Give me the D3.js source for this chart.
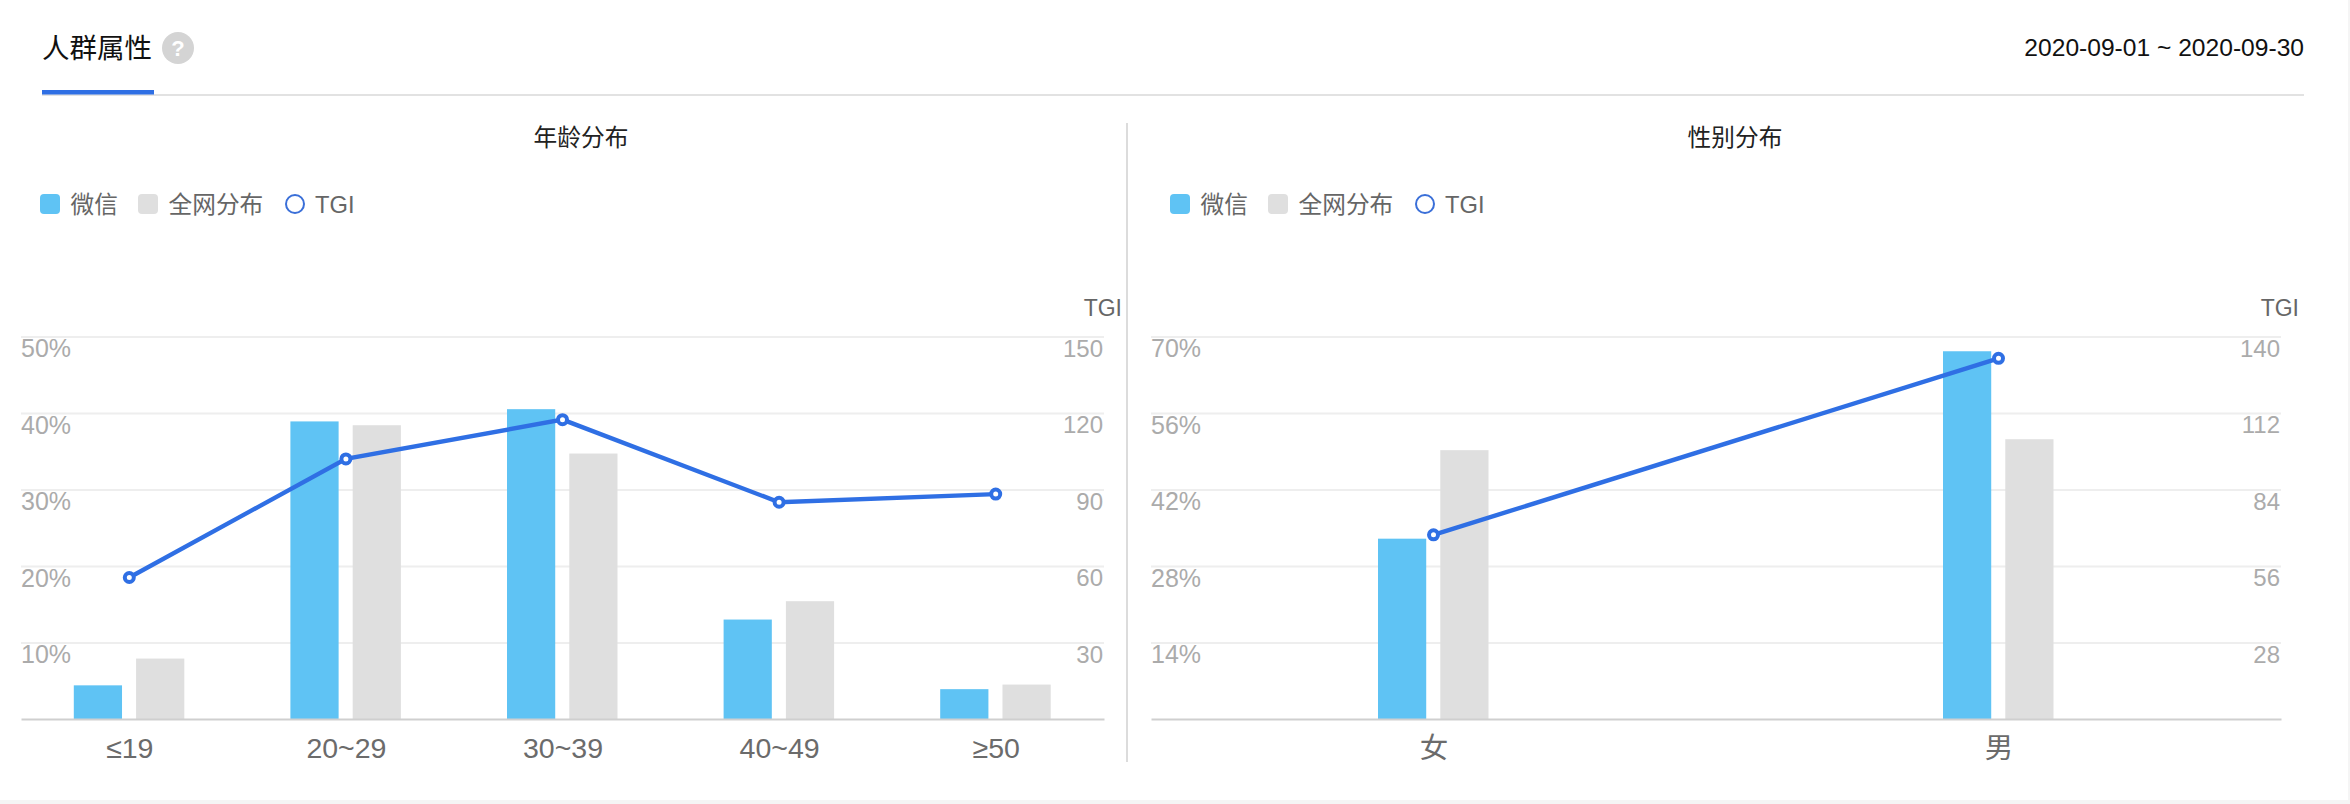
<!DOCTYPE html>
<html>
<head>
<meta charset="utf-8">
<script src="https://cdn.jsdelivr.net/npm/d3@7"></script>
<style>
  html, body { margin: 0; padding: 0; background: #fff; }
  svg { display: block; }
  text { font-family: "Liberation Sans", "Noto Sans CJK SC", sans-serif; }
</style>
</head>
<body>
<div id="chart"></div>
<script>
const pageTitle = "人群属性";
const dateRange = "2020-09-01 ~ 2020-09-30";
const seriesNames = ["微信", "全网分布", "TGI"];

const ageTitle = "年龄分布";
const ageCategories = ["≤19", "20~29", "30~39", "40~49", "≥50"];
const ageWechat = [4.4, 38.9, 40.5, 13.0, 3.9];
const ageNetwork = [7.9, 38.4, 34.7, 15.4, 4.5];
const ageTgi = [55.5, 102, 117.4, 85, 88.2];
const agePctTicks = [10, 20, 30, 40, 50];
const ageTgiTicks = [30, 60, 90, 120, 150];

const genderTitle = "性别分布";
const genderCategories = ["女", "男"];
const genderWechat = [33, 67.3];
const genderNetwork = [49.2, 51.2];
const genderTgi = [67.4, 132];
const genderPctTicks = [14, 28, 42, 56, 70];
const genderTgiTicks = [28, 56, 84, 112, 140];

const width = 2350;
const height = 804;
const marginTop = 336.5;
const baseline = 719;

const blue = "#5fc3f4";
const gray = "#dfdfdf";
const lineBlue = "#2f6fe4";

const svg = d3.select("#chart").append("svg")
    .attr("width", width)
    .attr("height", height)
    .attr("viewBox", [0, 0, width, height]);

// page frame: the light strip along the bottom and the right edge
svg.append("rect").attr("width", width).attr("height", height).attr("fill", "#f5f5f5");
svg.append("rect").attr("width", width - 2).attr("height", 800).attr("fill", "#fff");

// header
svg.append("text").attr("x", 42).attr("y", 48).attr("dy", "0.35em")
    .attr("font-size", 27.5).attr("fill", "#111")
    .text(pageTitle);
svg.append("circle").attr("cx", 178).attr("cy", 48).attr("r", 16).attr("fill", "#d4d4d4");
svg.append("text").attr("x", 178).attr("y", 48).attr("dy", "0.35em")
    .attr("text-anchor", "middle").attr("font-size", 22).attr("font-weight", "bold").attr("fill", "#fff")
    .text("?");
svg.append("text").attr("x", 2304).attr("y", 47).attr("dy", "0.35em")
    .attr("text-anchor", "end").attr("font-size", 24.6).attr("fill", "#111")
    .text(dateRange);
svg.append("line").attr("x1", 42).attr("x2", 2304).attr("y1", 95).attr("y2", 95)
    .attr("stroke", "#e2e2e2").attr("stroke-width", 2);
svg.append("rect").attr("x", 42).attr("y", 90).attr("width", 112).attr("height", 4.5).attr("fill", "#2f6fe4");

// divider between the two panels
svg.append("line").attr("x1", 1127).attr("x2", 1127).attr("y1", 123).attr("y2", 762)
    .attr("stroke", "#dcdcdc").attr("stroke-width", 2);

function legend(left) {
    const g = svg.append("g").attr("transform", `translate(${left},204)`);
    g.append("rect").attr("x", 0).attr("y", -10).attr("width", 20).attr("height", 20).attr("rx", 4).attr("fill", blue);
    g.append("rect").attr("x", 98).attr("y", -10).attr("width", 20).attr("height", 20).attr("rx", 4).attr("fill", gray);
    g.append("circle").attr("cx", 255).attr("r", 9).attr("fill", "#fff").attr("stroke", "#3a6fd8").attr("stroke-width", 2);
    [30.5, 128.5, 275].forEach((x, i) => {
        g.append("text").attr("x", x).attr("y", 1).attr("dy", "0.35em")
            .attr("font-size", 23.7).attr("fill", "#666")
            .text(seriesNames[i]);
    });
}

function drawPanel(opt) {
    const x = d3.scalePoint(opt.categories, [opt.left, opt.right]).padding(0.5);
    const sub = d3.scaleBand(["a", "b"], [-55.5, 55]).paddingInner(14 / 62);
    const yPct = d3.scaleLinear([0, d3.max(opt.pctTicks)], [baseline, marginTop]);
    const yTgi = d3.scaleLinear([0, d3.max(opt.tgiTicks)], [baseline, marginTop]);

    svg.append("text").attr("x", opt.titleX).attr("y", 138).attr("dy", "0.35em")
        .attr("text-anchor", "middle").attr("font-size", 23.7).attr("fill", "#222")
        .text(opt.title);

    legend(opt.legendLeft);

    // grid lines + left labels
    svg.append("g")
        .attr("transform", `translate(${opt.left},0)`)
        .call(d3.axisRight(yPct).tickValues(opt.pctTicks).tickSize(opt.right - opt.left).tickFormat(d => d + "%"))
        .call(g => g.select(".domain").remove())
        .call(g => g.selectAll(".tick line").attr("stroke", "#eeeeee").attr("stroke-width", 2))
        .call(g => g.selectAll(".tick text")
            .attr("x", 0).attr("y", 0).attr("dy", 11).attr("dominant-baseline", "central")
            .attr("text-anchor", "start")
            .attr("font-family", null).attr("font-size", 25).attr("fill", "#ababab"));

    // right labels
    svg.append("g")
        .attr("transform", `translate(${opt.right},0)`)
        .call(d3.axisLeft(yTgi).tickValues(opt.tgiTicks).tickSize(0))
        .call(g => g.select(".domain").remove())
        .call(g => g.selectAll(".tick text")
            .attr("x", -1).attr("dy", 11).attr("dominant-baseline", "central")
            .attr("font-family", null).attr("font-size", 24).attr("fill", "#ababab"));

    svg.append("text").attr("x", opt.tgiX).attr("y", 308).attr("dy", "0.35em")
        .attr("text-anchor", "end").attr("font-size", 23).attr("fill", "#666")
        .text("TGI");

    // bars
    [[opt.wechat, "a", blue], [opt.network, "b", gray]].forEach(([values, key, color]) => {
        svg.append("g").selectAll("rect")
            .data(values)
            .join("rect")
            .attr("x", (d, i) => x(opt.categories[i]) + sub(key))
            .attr("y", d => yPct(d))
            .attr("width", sub.bandwidth())
            .attr("height", d => baseline - yPct(d))
            .attr("fill", color);
    });

    // category axis
    svg.append("g")
        .attr("transform", `translate(0,${baseline})`)
        .call(d3.axisBottom(x).tickSize(0).tickPadding(0))
        .call(g => g.select(".domain").attr("stroke", "#cfcfcf").attr("stroke-width", 2))
        .call(g => g.selectAll(".tick text")
            .attr("y", 29).attr("dy", 0).attr("dominant-baseline", "central")
            .attr("font-family", null).attr("font-size", 28.5).attr("fill", "#6b6b6b"));

    // TGI line
    const line = d3.line()
        .x((d, i) => x(opt.categories[i]))
        .y(d => yTgi(d));
    svg.append("path")
        .attr("d", line(opt.tgi))
        .attr("fill", "none")
        .attr("stroke", lineBlue)
        .attr("stroke-width", 4.4);
    svg.append("g").selectAll("circle")
        .data(opt.tgi)
        .join("circle")
        .attr("cx", (d, i) => x(opt.categories[i]))
        .attr("cy", d => yTgi(d))
        .attr("r", 4.5)
        .attr("fill", "#fff")
        .attr("stroke", lineBlue)
        .attr("stroke-width", 4);
}

drawPanel({
    title: ageTitle, titleX: 581, legendLeft: 40, tgiX: 1122,
    left: 21, right: 1104,
    categories: ageCategories, wechat: ageWechat, network: ageNetwork, tgi: ageTgi,
    pctTicks: agePctTicks, tgiTicks: ageTgiTicks
});

drawPanel({
    title: genderTitle, titleX: 1735, legendLeft: 1170, tgiX: 2299,
    left: 1151, right: 2281,
    categories: genderCategories, wechat: genderWechat, network: genderNetwork, tgi: genderTgi,
    pctTicks: genderPctTicks, tgiTicks: genderTgiTicks
});
</script>
</body>
</html>
